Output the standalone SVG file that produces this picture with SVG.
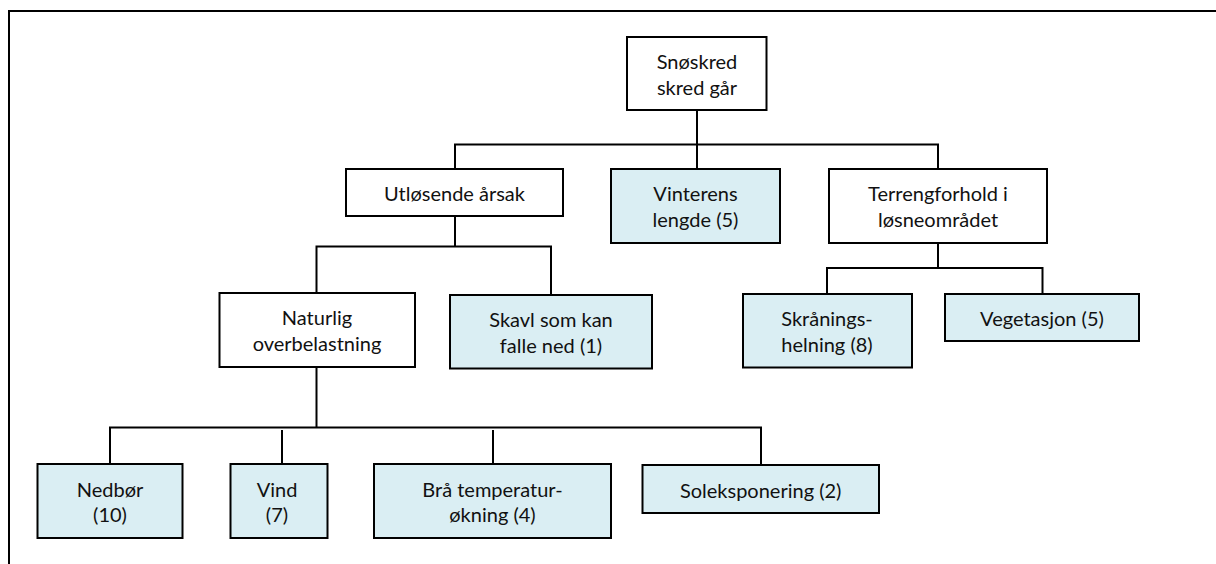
<svg xmlns="http://www.w3.org/2000/svg" width="1216" height="564" viewBox="0 0 1216 564">
<style>
.box{stroke:#000;stroke-width:2;}
.w{fill:#fff;}
.b{fill:#DAEEF3;}
.t{font-family:Lato,"Open Sans","Liberation Sans",sans-serif;font-size:20px;fill:#111;text-anchor:middle;}
.c{fill:none;stroke:#000;stroke-width:2;}
</style>
<rect width="1216" height="564" fill="#fff"/>
<path d="M9,564 V11 H1216" fill="none" stroke="#000" stroke-width="2"/>
<g id="connectors">
<path class="c" d="M697,110 V169"/>
<path class="c" d="M455,169 V144.5 H938 V169"/>
<path class="c" d="M455,216 V246.5"/>
<path class="c" d="M316.5,293 V246.5 H551 V295"/>
<path class="c" d="M938,243 V268"/>
<path class="c" d="M827,294 V268 H1042.5 V294"/>
<path class="c" d="M316.5,367 V427.5"/>
<path class="c" d="M110,464 V427.5 H761 V465"/>
<path class="c" d="M282,430 V464"/>
<path class="c" d="M493,430 V464"/>
</g>
<g id="root"><rect class="box w" x="627" y="37" width="139.5" height="73"/><text class="t" x="697" y="68.5">Snøskred</text><text class="t" x="697" y="94.5">skred går</text></g>
<g id="utlosende"><rect class="box w" x="346" y="169" width="217" height="47"/><text class="t" x="454.5" y="200.5">Utløsende årsak</text></g>
<g id="vinterens"><rect class="box b" x="611" y="169" width="169" height="74"/><text class="t" x="695.5" y="201">Vinterens</text><text class="t" x="695.5" y="227">lengde (5)</text></g>
<g id="terreng"><rect class="box w" x="829" y="169" width="218" height="74"/><text class="t" x="938" y="201">Terrengforhold i</text><text class="t" x="938" y="227">løsneområdet</text></g>
<g id="naturlig"><rect class="box w" x="219.5" y="293" width="195.5" height="74"/><text class="t" x="317" y="325">Naturlig</text><text class="t" x="317" y="351">overbelastning</text></g>
<g id="skavl"><rect class="box b" x="450" y="295" width="202" height="73.5"/><text class="t" x="551" y="327">Skavl som kan</text><text class="t" x="551" y="353">falle ned (1)</text></g>
<g id="skranings"><rect class="box b" x="743" y="294" width="169" height="73.5"/><text class="t" x="827" y="326">Skrånings-</text><text class="t" x="827" y="352">helning (8)</text></g>
<g id="vegetasjon"><rect class="box b" x="945" y="294" width="194" height="47"/><text class="t" x="1042" y="325.5">Vegetasjon (5)</text></g>
<g id="nedbor"><rect class="box b" x="37.5" y="464" width="145" height="74"/><text class="t" x="110" y="496.5">Nedbør</text><text class="t" x="110" y="522">(10)</text></g>
<g id="vind"><rect class="box b" x="230.5" y="464" width="97" height="74"/><text class="t" x="277" y="496.5">Vind</text><text class="t" x="277" y="522">(7)</text></g>
<g id="bra"><rect class="box b" x="374" y="464" width="237" height="74"/><text class="t" x="492.5" y="496.5">Brå temperatur-</text><text class="t" x="492.5" y="522">økning (4)</text></g>
<g id="sol"><rect class="box b" x="642.5" y="465" width="236.5" height="48"/><text class="t" x="760.7" y="497.5">Soleksponering (2)</text></g>
</svg>
